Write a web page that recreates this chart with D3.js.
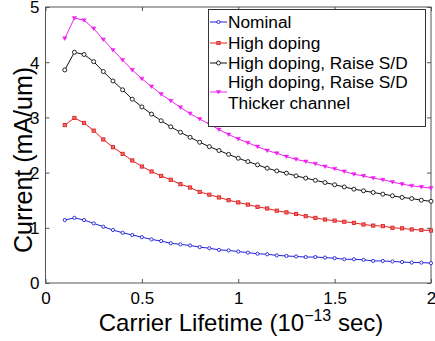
<!DOCTYPE html>
<html>
<head>
<meta charset="utf-8">
<script src="https://cdn.jsdelivr.net/npm/d3@7"></script>
<style>
  html, body { margin: 0; padding: 0; background: #fff; }
  text { font-family: "Liberation Sans", Arial, sans-serif; fill: #000; }
</style>
</head>
<body>
<div id="chart"></div>
<script>
// carrier lifetime (1e-13 s), 0.1 .. 2.0 every 0.05
const lifetimes = [0.1, 0.15, 0.2, 0.25, 0.3, 0.35, 0.4, 0.45, 0.5, 0.55, 0.6, 0.65, 0.7,
                   0.75, 0.8, 0.85, 0.9, 0.95, 1.0, 1.05, 1.1, 1.15, 1.2, 1.25, 1.3, 1.35,
                   1.4, 1.45, 1.5, 1.55, 1.6, 1.65, 1.7, 1.75, 1.8, 1.85, 1.9, 1.95, 2.0];

// current (mA/um)
const nominal = [1.14, 1.18, 1.14, 1.08, 1.02, 0.96, 0.91, 0.87, 0.83, 0.79, 0.76, 0.72, 0.70,
                 0.68, 0.65, 0.63, 0.60, 0.59, 0.57, 0.55, 0.53, 0.52, 0.50, 0.49, 0.48, 0.47,
                 0.47, 0.46, 0.45, 0.43, 0.43, 0.42, 0.40, 0.40, 0.39, 0.38, 0.37, 0.37, 0.36];
const highDoping = [2.86, 2.99, 2.90, 2.76, 2.60, 2.46, 2.34, 2.22, 2.11, 2.02, 1.94, 1.87, 1.79,
                    1.73, 1.65, 1.60, 1.55, 1.50, 1.46, 1.42, 1.38, 1.35, 1.31, 1.28, 1.25, 1.21,
                    1.18, 1.15, 1.13, 1.11, 1.09, 1.06, 1.04, 1.03, 1.00, 0.99, 0.97, 0.96, 0.95];
const raiseSD = [3.86, 4.18, 4.14, 4.01, 3.83, 3.66, 3.50, 3.33, 3.19, 3.06, 2.94, 2.83, 2.73,
                 2.64, 2.55, 2.47, 2.40, 2.33, 2.26, 2.20, 2.14, 2.08, 2.03, 1.99, 1.94, 1.90,
                 1.86, 1.82, 1.78, 1.74, 1.70, 1.67, 1.64, 1.61, 1.58, 1.55, 1.53, 1.50, 1.48];
const thicker = [4.43, 4.80, 4.76, 4.61, 4.41, 4.22, 4.04, 3.86, 3.70, 3.56, 3.42, 3.30, 3.18,
                 3.07, 2.97, 2.88, 2.78, 2.69, 2.61, 2.54, 2.47, 2.40, 2.35, 2.29, 2.24, 2.20,
                 2.16, 2.11, 2.07, 2.02, 1.97, 1.94, 1.90, 1.87, 1.83, 1.79, 1.76, 1.74, 1.72];

const seriesNames = ["Nominal", "High doping", "High doping, Raise S/D",
                     "High doping, Raise S/D\nThicker channel"];
const xTicks = [0, 0.5, 1, 1.5, 2];
const yTicks = [0, 1, 2, 3, 4, 5];

const width = 435, height = 341;
const margin = {left: 45.5, right: 4, top: 7, bottom: 58};

const series = [
    {name: seriesNames[0], values: nominal,    color: "#2020d8", marker: "dot"},
    {name: seriesNames[1], values: highDoping, color: "#e02020", marker: "square"},
    {name: seriesNames[2], values: raiseSD,    color: "#111",    marker: "circle"},
    {name: seriesNames[3], values: thicker,    color: "#ee22ee", marker: "tri"}
];

const svg = d3.select("#chart")
    .append("svg")
        .attr("width", width)
        .attr("height", height);

const x = d3.scaleLinear()
    .domain([0, 2])
    .range([margin.left, width - margin.right]);
const y = d3.scaleLinear()
    .domain([0, 5])
    .range([height - margin.bottom, margin.top]);

const axisColor = "#555";

// axes box
svg.append("rect")
    .attr("x", x(0))
    .attr("y", y(5))
    .attr("width", x(2) - x(0))
    .attr("height", y(0) - y(5))
    .attr("fill", "none")
    .attr("stroke", axisColor)
    .attr("stroke-width", 1);

// inward ticks on all four sides (matlab style)
const tickLen = 4;
const bottomAxis = svg.append("g")
    .attr("transform", `translate(0,${y(0)})`)
    .call(d3.axisBottom(x).tickValues(xTicks).tickSizeInner(-tickLen).tickSizeOuter(0)
            .tickFormat(d3.format("")).tickPadding(9));
const topAxis = svg.append("g")
    .attr("transform", `translate(0,${y(5)})`)
    .call(d3.axisTop(x).tickValues(xTicks).tickSizeInner(-tickLen).tickSizeOuter(0)
            .tickFormat(""));
const leftAxis = svg.append("g")
    .attr("transform", `translate(${x(0)},0)`)
    .call(d3.axisLeft(y).tickValues(yTicks).tickSizeInner(-tickLen).tickSizeOuter(0)
            .tickFormat(d3.format("d")).tickPadding(6));
const rightAxis = svg.append("g")
    .attr("transform", `translate(${x(2)},0)`)
    .call(d3.axisRight(y).tickValues(yTicks).tickSizeInner(-tickLen).tickSizeOuter(0)
            .tickFormat(""));

for (const ax of [bottomAxis, topAxis, leftAxis, rightAxis]) {
    ax.select(".domain").remove();
    ax.selectAll(".tick line").attr("stroke", axisColor);
    ax.selectAll(".tick text")
        .style("font-family", "'Liberation Sans', Arial, sans-serif")
        .style("font-size", "17px")
        .attr("fill", "#000");
}
bottomAxis.selectAll(".tick text").attr("dy", "0.71em");
leftAxis.selectAll(".tick text").attr("dy", "0.35em");

// lines + markers
const line = d3.line()
    .x((d, i) => x(lifetimes[i]))
    .y((d) => y(d));

function drawMarker(g, kind, color) {
    if (kind === "dot") {
        g.append("circle").attr("r", 1.6)
            .attr("fill", "#fff").attr("stroke", color).attr("stroke-width", 0.9);
    } else if (kind === "square") {
        g.append("rect").attr("x", -1.6).attr("y", -1.6).attr("width", 3.2).attr("height", 3.2)
            .attr("fill", "#f07070").attr("stroke", color).attr("stroke-width", 0.9);
    } else if (kind === "circle") {
        g.append("circle").attr("r", 2)
            .attr("fill", "#fff").attr("stroke", color).attr("stroke-width", 0.9);
    } else {
        g.append("path").attr("d", "M-2.2,-1.6L2.2,-1.6L0,2Z")
            .attr("fill", color).attr("stroke", color).attr("stroke-width", 0.5);
    }
}

const plot = svg.append("g").attr("id", "series");
for (const s of series) {
    plot.append("path")
        .datum(s.values)
        .attr("d", line)
        .attr("fill", "none")
        .attr("stroke", s.color)
        .attr("stroke-width", 1);
    plot.append("g")
        .selectAll("g")
        .data(s.values)
        .enter()
            .append("g")
            .attr("transform", (d, i) => `translate(${x(lifetimes[i])},${y(d)})`)
            .each(function() { drawMarker(d3.select(this), s.marker, s.color); });
}

// axis titles
svg.append("text")
    .attr("x", 241)
    .attr("y", 331)
    .attr("text-anchor", "middle")
    .style("font-size", "24px")
    .call((t) => {
        t.append("tspan").text("Carrier Lifetime (10");
        t.append("tspan").text("\u221213").style("font-size", "16px").attr("dy", -10);
        t.append("tspan").text(" sec)").attr("dy", 10);
    });

svg.append("text")
    .attr("transform", "translate(32,160) rotate(-90)")
    .attr("text-anchor", "middle")
    .style("font-size", "25px")
    .text("Current (mA/um)");

// legend
const legend = svg.append("g").attr("id", "legend");
legend.append("rect")
    .attr("x", 208.5).attr("y", 9.5)
    .attr("width", 217).attr("height", 117)
    .attr("fill", "#fff")
    .attr("stroke", "#333")
    .attr("stroke-width", 1);

const legendRows = [22, 43, 63, 92];
series.forEach((s, i) => {
    const cy = legendRows[i];
    const row = legend.append("g");
    row.append("line")
        .attr("x1", 210).attr("x2", 227)
        .attr("y1", cy).attr("y2", cy)
        .attr("stroke", s.color).attr("stroke-width", 1);
    drawMarker(row.append("g").attr("transform", `translate(218.5,${cy})`), s.marker, s.color);
    const lines = s.name.split("\n");
    const firstY = cy - (lines.length - 1) * 10.5;
    lines.forEach((ln, j) => {
        row.append("text")
            .attr("x", 228)
            .attr("y", firstY + j * 21)
            .attr("dy", "0.36em")
            .style("font-size", "17.3px")
            .text(ln);
    });
});
</script>
</body>
</html>
